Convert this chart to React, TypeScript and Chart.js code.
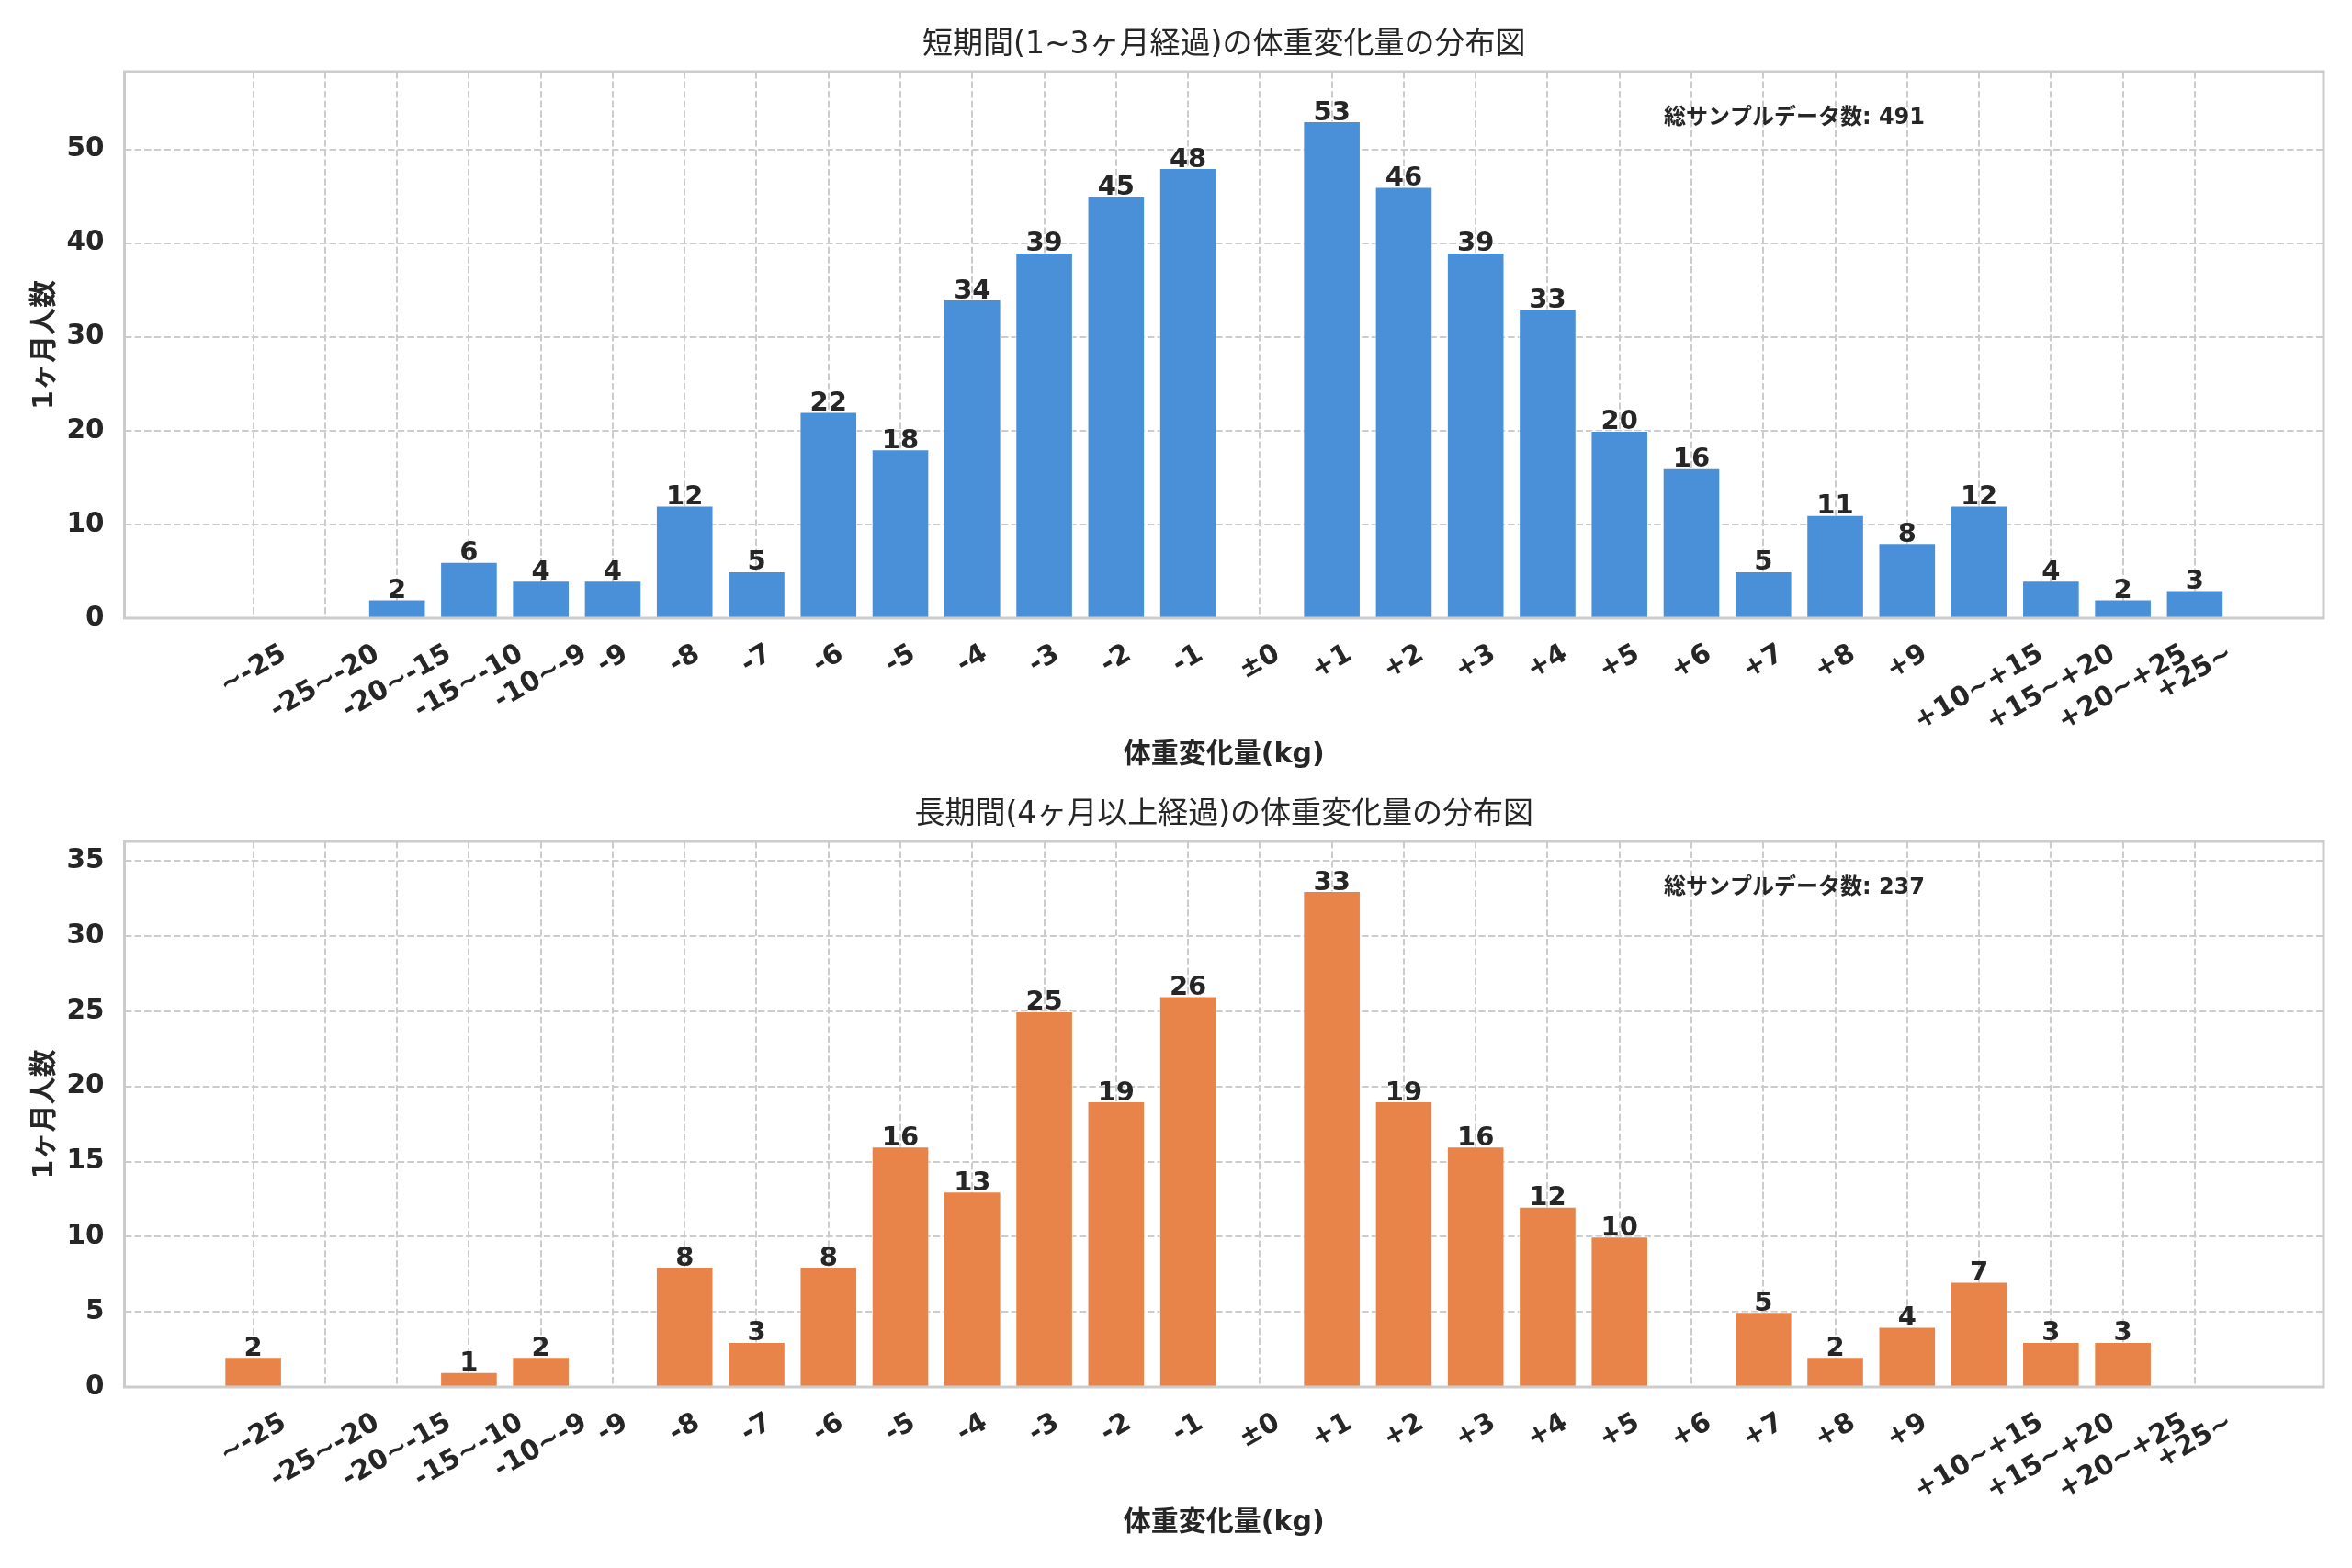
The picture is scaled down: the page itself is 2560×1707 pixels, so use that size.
import React, { useEffect, useRef } from "react";
import { Chart, registerables } from "chart.js";

Chart.register(...registerables);

// ---------------- data ----------------
const categories = [
  "~-25", "-25~-20", "-20~-15", "-15~-10", "-10~-9", "-9", "-8", "-7", "-6", "-5",
  "-4", "-3", "-2", "-1", "±0", "+1", "+2", "+3", "+4", "+5", "+6", "+7", "+8", "+9",
  "+10~+15", "+15~+20", "+20~+25", "+25~",
];
const shortTermCounts = [
  0, 0, 2, 6, 4, 4, 12, 5, 22, 18, 34, 39, 45, 48, 0, 53, 46, 39, 33, 20, 16, 5, 11, 8, 12, 4, 2, 3,
];
const longTermCounts = [
  2, 0, 0, 1, 2, 0, 8, 3, 8, 16, 13, 25, 19, 26, 0, 33, 19, 16, 12, 10, 0, 5, 2, 4, 7, 3, 3, 0,
];
const shortTermYTicks = [0, 10, 20, 30, 40, 50];
const longTermYTicks = [0, 5, 10, 15, 20, 25, 30, 35];

const shortTermTitle = "短期間(1~3ヶ月経過)の体重変化量の分布図";
const longTermTitle = "長期間(4ヶ月以上経過)の体重変化量の分布図";
const xAxisLabel = "体重変化量(kg)";
const yAxisLabel = "1ヶ月人数";
const totalLabel = "総サンプルデータ数";

// ---------------- styles ----------------
const FONT = "'DejaVu Sans', 'Noto Sans CJK JP', sans-serif";
const TEXT = "#262626";
const GRID = "#cccccc";
const BLUE = "#4a90d9";
const ORANGE = "#e8844a";
const W = 2560;
const PLOT_LEFT = 135.5;
const PLOT_RIGHT = 2529;

type Spec = {
  values: number[];
  color: string;
  yTicks: number[];
  title: string;
  height: number;
  plotTop: number;
  plotBottom: number;
  xTitlePad: number;
};

function makeDecor(spec: Spec) {
  return {
    id: "decor",
    afterDatasetsDraw(chart: any) {
      const { ctx, chartArea: a, scales } = chart;
      const xs = scales.x;
      const ys = scales.y;
      ctx.save();
      // value labels
      ctx.fillStyle = TEXT;
      ctx.font = `bold 29px ${FONT}`;
      ctx.textAlign = "center";
      ctx.textBaseline = "alphabetic";
      spec.values.forEach((v, i) => {
        if (v > 0) {
          ctx.fillText(String(v), xs.getPixelForValue(i), ys.getPixelForValue(v) - 1.5);
        }
      });
      // frame
      ctx.strokeStyle = GRID;
      ctx.lineWidth = 3;
      ctx.setLineDash([]);
      ctx.strokeRect(a.left, a.top, a.right - a.left, a.bottom - a.top);
      ctx.restore();
    },
    afterDraw(chart: any) {
      const { ctx, chartArea: a, scales } = chart;
      const xs = scales.x;
      ctx.save();
      ctx.fillStyle = TEXT;
      // rotated category labels, centred on the tick like matplotlib (ha=center)
      const fs = 29.5;
      ctx.font = `bold ${fs}px ${FONT}`;
      const h = fs * 1.164;
      const ang = Math.PI / 6;
      categories.forEach((lab, i) => {
        const w = ctx.measureText(lab).width;
        const H = w * Math.sin(ang) + h * Math.cos(ang);
        const cx = xs.getPixelForValue(i);
        const cy = a.bottom + 22 + H / 2;
        ctx.save();
        ctx.translate(cx, cy);
        ctx.rotate(-ang);
        ctx.textAlign = "center";
        ctx.textBaseline = "middle";
        ctx.fillText(lab, 0, 0);
        ctx.restore();
      });
      // title
      ctx.font = `33px ${FONT}`;
      ctx.textAlign = "center";
      ctx.textBaseline = "middle";
      ctx.fillText(spec.title, (a.left + a.right) / 2, a.top - 29);
      // total annotation
      const total = spec.values.reduce((s, v) => s + v, 0);
      ctx.font = `bold 24px ${FONT}`;
      ctx.textAlign = "left";
      ctx.fillText(`${totalLabel}: ${total}`, a.left + 0.7 * (a.right - a.left), a.top + 51);
      ctx.restore();
    },
  };
}

function makeConfig(spec: Spec): any {
  const n = categories.length;
  const span = n - 1 + 0.8;
  const margin = 0.05 * span;
  const xMin = -0.4 - margin;
  const xMax = n - 1 + 0.4 + margin;
  const yMax = Math.max(...spec.values) * 1.1;
  const tickFont = { family: FONT, size: 29.5, weight: "bold" as const };
  const titleFont = { family: FONT, size: 30, weight: "bold" as const };
  return {
    type: "bar",
    data: {
      datasets: [
        {
          data: spec.values.map((v, i) => ({ x: i, y: v })),
          backgroundColor: spec.color,
          borderColor: "rgba(255,255,255,0.7)",
          borderWidth: 1,
          barPercentage: 0.8,
          categoryPercentage: 1,
        },
      ],
    },
    options: {
      animation: false,
      responsive: false,
      devicePixelRatio: 1,
      layout: { padding: { top: spec.plotTop, right: W - PLOT_RIGHT, left: 0, bottom: 0 } },
      plugins: {
        legend: { display: false },
        tooltip: { enabled: false },
        title: { display: false },
      },
      scales: {
        x: {
          type: "linear",
          min: xMin,
          max: xMax,
          offset: false,
          afterBuildTicks: (s: any) => {
            s.ticks = categories.map((_, i) => ({ value: i }));
          },
          afterFit: (s: any) => {
            s.height = spec.height - spec.plotBottom;
          },
          ticks: { display: false, autoSkip: false },
          grid: { color: GRID, lineWidth: 2, drawTicks: false, offset: false },
          border: { display: false, dash: [7.4, 3.2] },
          title: {
            display: true,
            text: xAxisLabel,
            color: TEXT,
            font: titleFont,
            padding: { top: 0, bottom: spec.xTitlePad },
          },
        },
        y: {
          type: "linear",
          min: 0,
          max: yMax,
          afterBuildTicks: (s: any) => {
            s.ticks = spec.yTicks.map((v) => ({ value: v }));
          },
          afterFit: (s: any) => {
            s.width = PLOT_LEFT;
          },
          ticks: { color: TEXT, font: tickFont, padding: 22 },
          grid: { color: GRID, lineWidth: 2, drawTicks: false, offset: false },
          border: { display: false, dash: [7.4, 3.2] },
          title: {
            display: true,
            text: yAxisLabel,
            color: TEXT,
            font: titleFont,
            padding: { top: 31, bottom: 0 },
          },
        },
      },
    },
    plugins: [makeDecor(spec)],
  };
}

function BarPanel({ spec, top }: { spec: Spec; top: number }) {
  const ref = useRef<HTMLCanvasElement | null>(null);
  useEffect(() => {
    if (!ref.current) return;
    const chart = new Chart(ref.current, makeConfig(spec));
    return () => chart.destroy();
  }, [spec]);
  return (
    <canvas
      ref={ref}
      width={W}
      height={spec.height}
      style={{ position: "absolute", left: 0, top, width: W, height: spec.height, display: "block" }}
    />
  );
}

const topSpec: Spec = {
  values: shortTermCounts,
  color: BLUE,
  yTicks: shortTermYTicks,
  title: shortTermTitle,
  height: 853,
  plotTop: 78,
  plotBottom: 673,
  xTitlePad: 12.3,
};

const bottomSpec: Spec = {
  values: longTermCounts,
  color: ORANGE,
  yTicks: longTermYTicks,
  title: longTermTitle,
  height: 854,
  plotTop: 63,
  plotBottom: 657,
  xTitlePad: 30.3,
};

export default function App() {
  return (
    <div
      style={{
        position: "absolute",
        left: 0,
        top: 0,
        width: W,
        height: 1707,
        background: "#ffffff",
        overflow: "hidden",
      }}
    >
      <BarPanel spec={topSpec} top={0} />
      <BarPanel spec={bottomSpec} top={853} />
    </div>
  );
}
